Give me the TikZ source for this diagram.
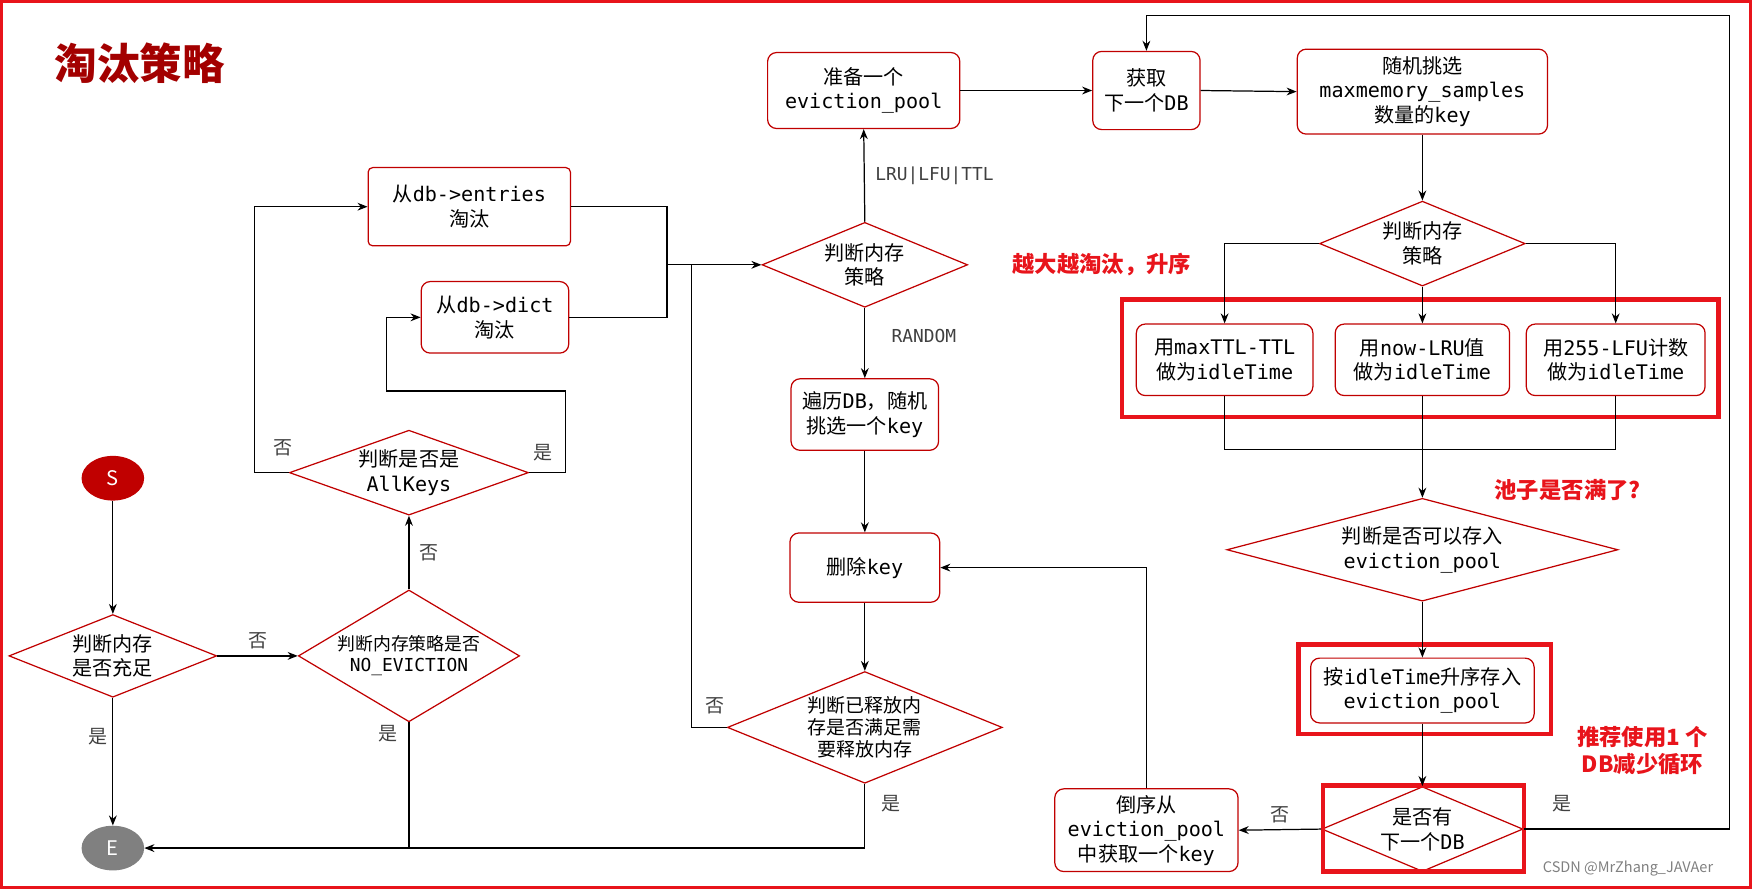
\documentclass[tikz,border=0pt]{standalone}
\usepackage{fontspec}
\setmainfont{Noto Sans CJK SC}
\newfontfamily\mono{DejaVu Sans Mono}
\usetikzlibrary{shapes.geometric,arrows.meta}
\definecolor{nred}{HTML}{C00000}
\definecolor{hred}{HTML}{E8141B}
\begin{document}
\begin{tikzpicture}[x=1pt,y=-1pt,
  every node/.style={font=\fontsize{18}{22}\selectfont,align=center},
  box/.style={draw=nred,line width=1.1pt,rounded corners=8pt,minimum width=#1,inner sep=2pt},
  dia/.style={draw=nred,line width=1.1pt,shape=diamond,inner sep=0pt},
  ar/.style={-{Stealth[length=9pt,width=7pt]},line width=1.1pt},
  ln/.style={line width=1.1pt},
  hl/.style={draw=hred,line width=4pt},
  lab/.style={font=\fontsize{17}{20}\selectfont,text=black!75},
  note/.style={font=\fontsize{20}{24}\selectfont\bfseries,text=hred}]
\useasboundingbox (0,0) rectangle (1568,796);
\draw[hred,line width=3pt] (1.5,1.5) rectangle (1566.5,794.5);
\node[font=\fontsize{38}{44}\selectfont\bfseries,text=nred!85!black] (title) at (125,57) {淘汰策略};
\node[ellipse,fill=nred,text=white,minimum width=56pt,minimum height=40pt] (S) at (101,428) {S};
\node[ellipse,fill=gray,text=white,minimum width=56pt,minimum height=40pt] (E) at (101,759) {E};
\node[dia,minimum width=186pt,minimum height=74pt,aspect=2.5] (d1) at (101,587) {判断内存\\是否充足};
\node[dia,minimum width=198pt,minimum height=118pt,aspect=1.7,font=\fontsize{16}{19}\selectfont] (d2) at (366,587) {判断内存策略是否\\{\mono NO\_EVICTION}};
\node[dia,minimum width=214pt,minimum height=76pt,aspect=2.8] (d3) at (366,423) {判断是否是\\{\mono AllKeys}};
\node[box=181pt,minimum height=70pt,rounded corners=4pt] (r1) at (420,185) {从{\mono db->entries}\\淘汰};
\node[box=132pt,minimum height=64pt] (r2) at (443,284) {从{\mono db->dict}\\淘汰};
\node[dia,minimum width=184pt,minimum height=76pt,aspect=2.4] (d4) at (774,237) {判断内存\\策略};
\node[box=172pt,minimum height=68pt] (r3) at (773,81) {准备一个\\{\mono eviction\_pool}};
\node[box=96pt,minimum height=70pt] (r4) at (1026,81) {获取\\下一个{\mono DB}};
\node[box=224pt,minimum height=76pt] (r5) at (1273,82) {随机挑选\\{\mono maxmemory\_samples}\\数量的{\mono key}};
\node[dia,minimum width=184pt,minimum height=76pt,aspect=2.4] (d5) at (1273,218) {判断内存\\策略};
\node[box=158pt,minimum height=64pt] (r6) at (1096,322) {用{\mono maxTTL-TTL}\\做为{\mono idleTime}};
\node[box=156pt,minimum height=64pt] (r7) at (1273,322) {用{\mono now-LRU}值\\做为{\mono idleTime}};
\node[box=160pt,minimum height=64pt] (r8) at (1446,322) {用{\mono 255-LFU}计数\\做为{\mono idleTime}};
\node[dia,minimum width=350pt,minimum height=92pt,aspect=3.8] (d6) at (1273,492) {判断是否可以存入\\{\mono eviction\_pool}};
\node[box=200pt,minimum height=58pt] (r9) at (1273,618) {按{\mono idleTime}升序存入\\{\mono eviction\_pool}};
\node[dia,minimum width=180pt,minimum height=76pt,aspect=2.4] (d7) at (1273,742) {是否有\\下一个{\mono DB}};
\node[box=164pt,minimum height=74pt] (r10) at (1026,743) {倒序从\\{\mono eviction\_pool}\\中获取一个{\mono key}};
\node[box=132pt,minimum height=64pt] (r11) at (774,371) {遍历{\mono DB}，随机\\挑选一个{\mono key}};
\node[box=134pt,minimum height=62pt] (r12) at (774,508) {删除{\mono key}};
\node[dia,minimum width=246pt,minimum height=100pt,aspect=2.5,font=\fontsize{17}{20}\selectfont] (d8) at (774,651) {判断已释放内\\存是否满足需\\要释放内存};
% highlight boxes
\draw[hl] (1004,268) rectangle (1538,373);
\draw[hl] (1162,577) rectangle (1388,657);
\draw[hl] (1184,703) rectangle (1364,780);
% notes
\node[note] (n1) at (986,237) {越大越淘汰，升序};
\node[note] (n2) at (1403,439) {池子是否满了?};
\node[note] (n3) at (1470,672) {推荐使用1 个\\DB减少循环};
\node[font=\fontsize{13}{16}\selectfont,text=gray] (wm) at (1457,777) {CSDN @MrZhang\_JAVAer};
% coordinates
\coordinate (j1) at (597,237);
\coordinate (jE) at (366,759);
% edges
\draw[ar] (S) -- (d1);
\draw[ar] (d1) -- (E);
\node[lab] (l0) at (88,659) {是};
\draw[ar] (d1.east) -- (d2.west) node[lab,midway,above=2pt] {否};
\draw[ln] (d2.south) -- (jE);
\draw[ar] (d8.south) |- (E.east);
\node[lab] (l1) at (347,657) {是};
\node[lab] (l2) at (797,719) {是};
\draw[ar] (d2.north) -- (d3.south) node[lab,midway,right=6pt] {否};
\draw[ar] (d3.west) -- (228,423) |- (r1.west);
\node[lab] (l3) at (253,401) {否};
\draw[ar] (d3.east) -- (506,423) -- (506,350) -- (346,350) |- (r2.west);
\node[lab] (l4) at (486,405) {是};
\draw[ln] (r1.east) -| (j1);
\draw[ln] (r2.east) -| (j1);
\draw[ar] (j1) -- (d4.west);
\draw[ln] (d8.west) -| (619,237);
\node[lab] (l5) at (640,632) {否};
\draw[ar] (d4.north) -- (r3.south) node[lab,midway,right=6pt,font=\mono\fontsize{16}{19}\selectfont] {LRU|LFU|TTL};
\draw[ar] (d4.south) -- (r11.north) node[lab,pos=0.4,right=20pt,font=\mono\fontsize{16}{19}\selectfont] {RANDOM};
\draw[ar] (r11) -- (r12);
\draw[ar] (r12) -- (d8.north);
\draw[ar] (r3.east) -- (r4.west);
\draw[ar] (r4.east) -- (r5.west);
\draw[ar] (r5) -- (d5.north);
\draw[ar] (d5.west) -| (r6.north);
\draw[ar] (d5.south) -- (r7.north);
\draw[ar] (d5.east) -| (r8.north);
\draw[ln] (r6.south) |- (1446,402) -- (r8.south);
\draw[ar] (r7.south) -- (d6.north);
\draw[ar] (d6.south) -- (r9.north);
\draw[ar] (r9.south) -- (d7.north);
\draw[ar] (d7.west) -- (r10.east) node[lab,midway,above=2pt] {否};
\draw[ar] (d7.east) -- (1548,742) -- (1548,14) -| (r4.north);
\node[lab] (l6) at (1398,719) {是};
\draw[ar] (r10.north) |- (r12.east);
\end{tikzpicture}
\end{document}
